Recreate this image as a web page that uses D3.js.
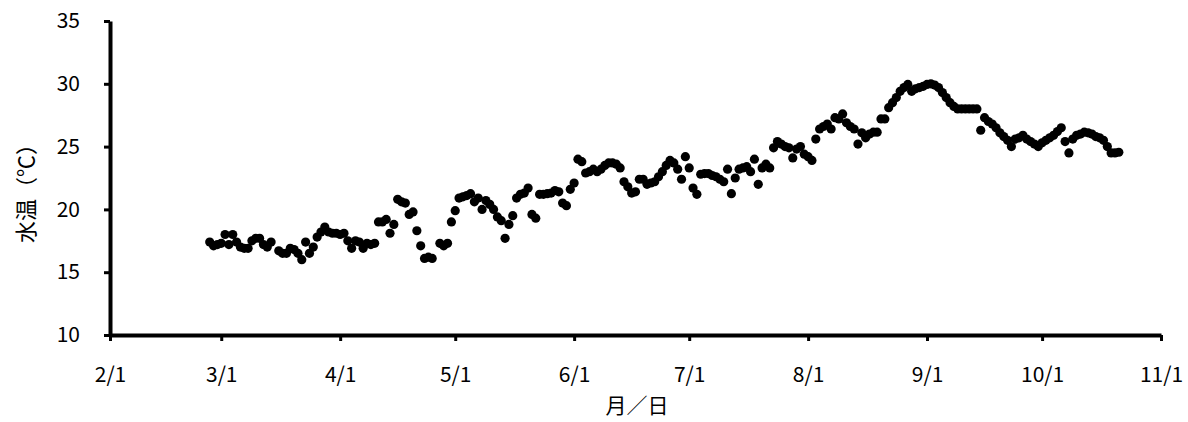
<!DOCTYPE html>
<html>
<head>
<meta charset="utf-8">
<script src="https://cdn.jsdelivr.net/npm/d3@7/dist/d3.min.js"></script>
<style>
  html, body { margin: 0; padding: 0; background: #fff; }
  svg { display: block; }
  text { font-family: "Noto Sans CJK JP", "Noto Sans", sans-serif; fill: #000; }
</style>
</head>
<body>
<svg id="chart" width="1188" height="422"></svg>
<script>
// ---- data ----
const startDate = "2012-02-27";   // first measurement day (daily series)
const temps = [
  17.4,17.1,17.2,17.3,18.0,17.2,18.0,17.4,17.0,16.9,
  16.9,17.5,17.7,17.7,17.2,17.0,17.4,null,16.7,16.5,
  16.5,16.9,16.8,16.5,16.0,17.4,16.5,17.0,17.8,18.2,
  18.6,18.2,18.1,18.1,18.0,18.1,17.5,16.9,17.5,17.4,
  16.9,17.3,17.2,17.3,
  19.0,19.0,19.2,18.1,18.8,20.8,20.6,20.5,19.6,19.8,18.3,17.1,16.1,16.2,16.1,
  null,17.3,17.1,17.3,
  19.0,19.9,20.9,21.0,21.1,21.25,20.6,20.9,20.0,20.7,
  20.4,20.0,19.4,19.1,17.7,18.8,19.5,20.9,21.2,21.3,
  21.7,19.6,19.3,21.2,21.2,21.25,21.3,21.5,21.4,20.5,
  20.3,21.6,22.1,24.0,23.8,22.9,
  23.0,23.2,23.0,23.2,23.5,23.7,23.7,23.6,23.3,22.2,
  21.8,21.3,21.4,22.4,22.4,22.0,22.1,22.2,22.6,23.0,
  23.5,23.9,23.7,23.2,22.4,24.2,23.3,21.7,21.2,22.8,
  22.85,22.85,22.7,22.6,22.4,22.2,23.2,21.25,22.5,23.2,
  23.3,23.4,23.0,24.0,22.0,
  23.3,23.6,23.3,24.9,25.4,25.2,25.0,24.9,24.1,24.8,
  25.0,24.4,24.2,23.9,25.6,26.4,26.6,26.8,26.4,27.3,
  27.2,27.6,26.9,26.6,26.4,25.2,26.1,25.7,26.0,26.15,
  26.15,27.2,27.2,28.1,28.5,28.9,29.4,29.7,29.95,29.4,
  29.6,29.7,29.8,29.95,30.0,29.9,29.7,29.3,28.9,28.5,
  28.2,28.0,28.0,28.0,28.0,28.0,28.0,26.3,27.3,27.0,
  26.8,26.5,26.1,25.8,25.5,25.0,25.6,25.7,25.9,25.6,
  25.4,25.2,25.0,25.3,25.5,25.7,25.9,26.2,26.5,25.4,
  24.5,25.6,25.9,26.0,26.15,26.1,26.0,25.8,25.7,25.5,
  25.0,24.5,24.5,24.55
];
const xTickDates = ["2012-02-01","2012-03-01","2012-04-01","2012-05-01","2012-06-01",
                    "2012-07-01","2012-08-01","2012-09-01","2012-10-01","2012-11-01"];
const yTicks = [10, 15, 20, 25, 30, 35];
const xTitle = "月／日";
const yTitle = "水温（℃）";

// ---- build ----
const parse = d3.utcParse("%Y-%m-%d");
const t0 = parse(startDate);
const points = temps.map((v, i) => ({ date: d3.utcDay.offset(t0, i), v }))
                    .filter(d => d.v !== null);
const xDates = xTickDates.map(parse);

const svg = d3.select("#chart");
const x = d3.scaleUtc().domain([xDates[0], xDates[xDates.length - 1]]).range([110, 1161]);
const y = d3.scaleLinear().domain([10, 35]).range([335, 21]);

const fmt = d3.utcFormat("%-m/%-d");

const gx = svg.append("g").attr("transform", "translate(0,335)")
  .call(d3.axisBottom(x).tickValues(xDates).tickFormat(fmt).tickSize(6).tickSizeOuter(0).tickPadding(26));
const gy = svg.append("g").attr("transform", "translate(110,0)")
  .call(d3.axisLeft(y).tickValues(yTicks).tickSize(6).tickSizeOuter(0).tickPadding(24));

[gx, gy].forEach(g => {
  g.select(".domain").attr("stroke", "#000").attr("stroke-width", 4);
  g.selectAll(".tick line").attr("stroke", "#000").attr("stroke-width", 3);
  g.selectAll(".tick text").attr("font-size", 21).attr("fill", "#000")
    .style("font-family", '"Noto Sans CJK JP", sans-serif');
});

svg.append("g").selectAll("circle").data(points).join("circle")
  .attr("cx", d => x(d.date))
  .attr("cy", d => y(d.v))
  .attr("r", 4.6)
  .attr("fill", "#000");

svg.append("text")
  .attr("x", 637).attr("y", 404)
  .attr("text-anchor", "middle").attr("dominant-baseline", "central")
  .attr("font-size", 21)
  .text(xTitle);

svg.append("text")
  .attr("transform", "translate(24,188) rotate(-90)")
  .attr("text-anchor", "middle").attr("dominant-baseline", "central")
  .attr("font-size", 22)
  .text(yTitle);
</script>
</body>
</html>
